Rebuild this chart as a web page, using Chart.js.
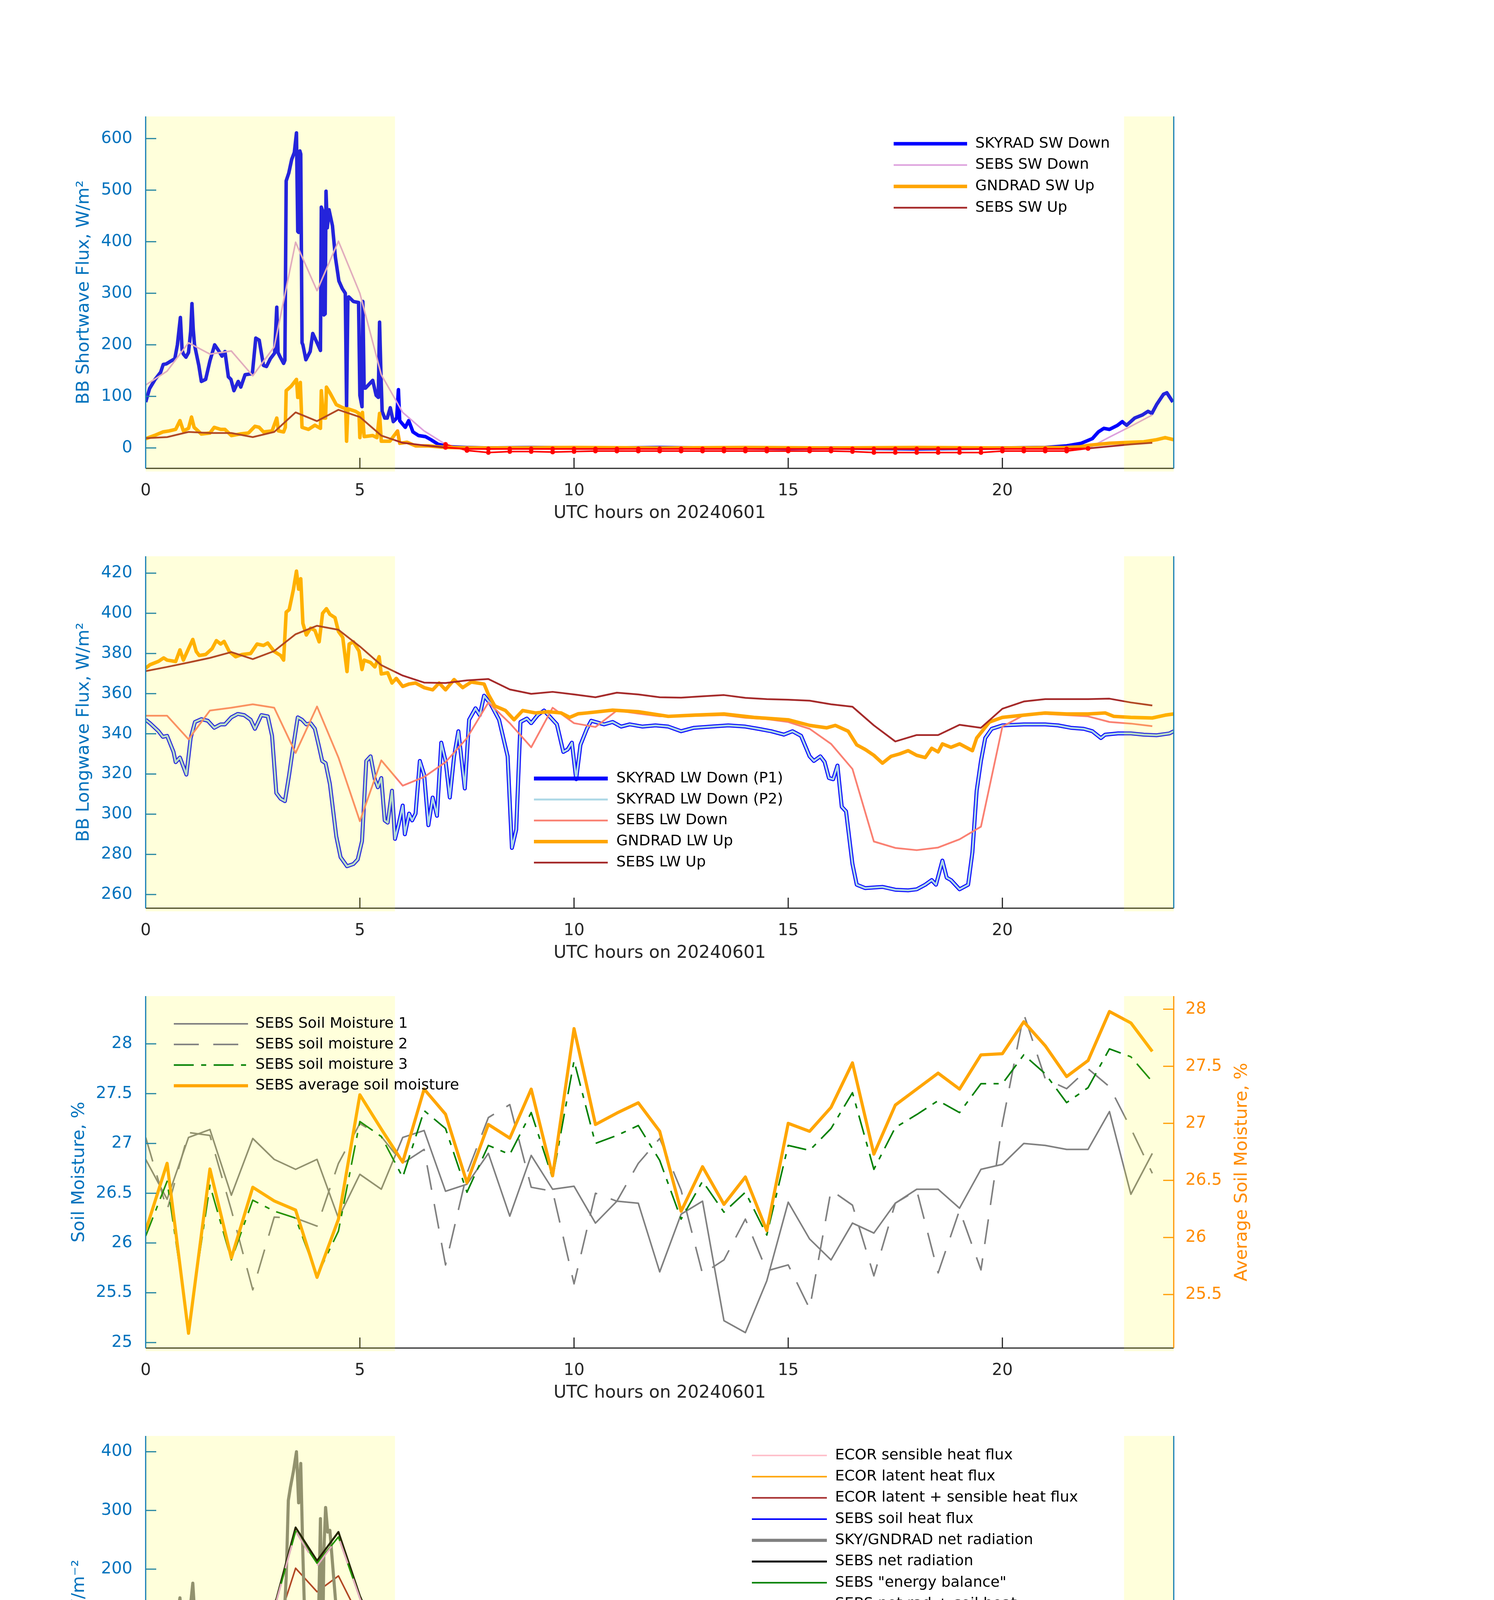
<!DOCTYPE html>
<html>
<head>
<meta charset="utf-8">
<title>Surface radiation and energy balance, 20240601</title>
<script src="https://cdn.jsdelivr.net/npm/chart.js@4.4.1/dist/chart.umd.min.js"></script>
<style>
  html, body { margin: 0; padding: 0; background: #fff; }
  body { width: 3825px; height: 4875px; position: relative; overflow: hidden; }
  canvas { position: absolute; left: 0; }
</style>
</head>
<body>
<canvas id="swChart"></canvas>
<canvas id="lwChart"></canvas>
<canvas id="soilChart"></canvas>
<canvas id="fluxChart"></canvas>
<script>
// ============================================================
// Data
// ============================================================

const xTicks = [0, 5, 10, 15, 20];
const nightShade = [[0, 5.82], [22.84, 24]];          // shaded hours
const halfHours = Array.from({ length: 48 }, (_, i) => i / 2);

// ── Panel 1: shortwave ──────────────────────────────────────
const swTicks = [0, 100, 200, 300, 400, 500, 600];
const skyradSwDown = [[0,89],[0.09,115],[0.22,133],[0.35,147],[0.41,162],[0.48,163],[0.58,168],[0.68,173],[0.74,200],[0.81,253],[0.85,190],[0.88,182],[0.94,176],[1.0,185],[1.05,226],[1.08,280],[1.11,230],[1.14,200],[1.24,160],[1.3,129],[1.4,133],[1.5,169],[1.61,200],[1.7,189],[1.78,178],[1.85,187],[1.93,138],[1.99,133],[2.06,111],[2.16,129],[2.22,118],[2.32,142],[2.49,144],[2.57,213],[2.65,209],[2.75,160],[2.82,158],[2.91,173],[3.01,184],[3.06,273],[3.09,185],[3.13,178],[3.22,164],[3.25,170],[3.28,518],[3.34,533],[3.41,560],[3.47,573],[3.52,611],[3.55,420],[3.57,418],[3.6,576],[3.62,570],[3.65,204],[3.67,200],[3.74,171],[3.84,187],[3.9,222],[4.0,204],[4.08,189],[4.1,467],[4.14,458],[4.16,258],[4.19,260],[4.21,498],[4.24,427],[4.28,462],[4.36,431],[4.43,369],[4.51,324],[4.59,309],[4.66,300],[4.69,80],[4.72,290],[4.74,293],[4.85,284],[4.97,282],[5.0,102],[5.05,80],[5.07,284],[5.1,116],[5.13,116],[5.22,124],[5.3,131],[5.38,102],[5.43,98],[5.46,244],[5.49,150],[5.52,71],[5.58,58],[5.64,58],[5.71,78],[5.78,51],[5.86,58],[5.9,113],[5.93,53],[6.06,40],[6.14,53],[6.24,31],[6.37,24],[6.53,22],[6.66,16],[6.83,7],[7.13,2],[7.5,1],[8,0],[9,1],[10,0],[11,0],[12,1],[13,0],[14,0],[15,-1],[16,0],[17,-1],[18,-2],[19,-1],[20,0],[21,1],[21.5,4],[21.84,9],[22.1,18],[22.24,31],[22.37,38],[22.5,36],[22.69,44],[22.8,51],[22.9,44],[23.09,58],[23.27,64],[23.4,71],[23.49,67],[23.6,84],[23.76,104],[23.84,107],[23.98,89]];
const gndradSwUp = [[0,18],[0.2,24],[0.4,31],[0.55,33],[0.7,36],[0.8,53],[0.88,33],[1.0,38],[1.07,60],[1.13,40],[1.3,27],[1.5,29],[1.6,40],[1.75,36],[1.85,36],[2.0,24],[2.2,27],[2.4,29],[2.55,42],[2.65,40],[2.75,31],[2.95,33],[3.06,58],[3.1,33],[3.22,31],[3.26,40],[3.28,111],[3.4,120],[3.52,133],[3.55,98],[3.58,98],[3.61,127],[3.65,40],[3.8,36],[3.95,44],[4.08,38],[4.1,111],[4.15,58],[4.2,58],[4.22,118],[4.3,107],[4.45,84],[4.6,78],[4.67,76],[4.69,13],[4.72,76],[4.9,71],[4.98,67],[5.0,20],[5.06,69],[5.1,22],[5.3,24],[5.4,20],[5.46,67],[5.5,13],[5.7,13],[5.88,33],[5.93,9],[6.1,11],[6.3,4],[6.6,4],[7.0,1],[8,0],[10,1],[12,0],[14,1],[16,0],[18,1],[20,0],[21.5,1],[21.8,2],[22.0,5],[22.5,9],[23.0,11],[23.3,12],[23.6,16],[23.8,20],[24,16]];
const sebsSwDown = [122,149,204,182,188,140,196,399,305,401,300,142,69,33,7,-5,-9,-7,-7,-8,-7,-6,-6,-6,-6,-6,-6,-6,-6,-6,-6,-6,-6,-7,-9,-9,-9,-9,-9,-9,-6,-6,-6,-6,-1,21,42,64];
const sebsSwUp = [19,21,31,29,29,21,31,69,52,74,60,24,10,5,1,-2,-2,-2,-2,-2,-2,-2,-2,-2,-2,-2,-2,-2,-2,-2,-2,-2,-2,-2,-2,-2,-2,-2,-2,-2,-2,-2,-2,-2,-1,3,7,10];
const sebsSwFlagHours = [7, 22];   // QC-flagged stretch, drawn red

// ── Panel 2: longwave ───────────────────────────────────────
const lwTicks = [260, 280, 300, 320, 340, 360, 380, 400, 420];
const skyradLwDown = [[0,347],[0.1,345.3],[0.3,341.3],[0.4,338.5],[0.5,339],[0.65,331],[0.7,325.9],[0.8,328.2],[0.95,319.7],[1.05,337.9],[1.15,345.9],[1.3,347.3],[1.45,346.5],[1.6,343],[1.75,344.7],[1.85,344.7],[2.0,348.2],[2.15,349.9],[2.3,349.3],[2.45,347],[2.55,342.5],[2.7,349.3],[2.85,348.7],[2.95,339],[3.05,310.5],[3.15,307.7],[3.25,306.5],[3.35,319.7],[3.45,334.5],[3.55,348.2],[3.65,347],[3.75,344.7],[3.85,345.3],[3.95,342.5],[4.05,333.3],[4.12,326.5],[4.2,325.4],[4.3,315.1],[4.45,288.9],[4.55,278.6],[4.7,274.1],[4.85,275.2],[4.95,277.5],[5.05,286.6],[5.15,326.5],[5.25,328.8],[5.35,317.4],[5.42,313.4],[5.5,318],[5.58,296.9],[5.65,295.8],[5.75,311.7],[5.82,287.7],[5.9,294.5],[6.0,304.3],[6.05,290],[6.15,300.3],[6.22,296.9],[6.3,300.3],[6.4,326.5],[6.5,319.7],[6.6,294.5],[6.7,308.3],[6.8,299.2],[6.9,335.6],[7.0,326.5],[7.1,308.3],[7.2,328.8],[7.3,341.3],[7.45,312.8],[7.55,347],[7.7,352.7],[7.8,349.3],[7.9,359],[8.05,355],[8.25,347],[8.45,328.8],[8.55,283.2],[8.65,292.3],[8.75,345.9],[8.9,347.6],[9.0,345.3],[9.15,349.3],[9.3,351.6],[9.45,348.2],[9.6,344.7],[9.75,331],[9.85,332.2],[9.95,335.6],[10.05,317.4],[10.15,334.5],[10.3,342.5],[10.4,346.5],[10.7,344.7],[10.9,345.9],[11.1,343.6],[11.3,344.7],[11.6,343.6],[11.9,344.2],[12.2,343.6],[12.5,341.3],[12.8,343],[13.2,343.6],[13.6,344.2],[14.0,343.6],[14.3,342.5],[14.6,341.3],[14.9,339.6],[15.1,341.3],[15.3,339],[15.5,328.8],[15.6,326.5],[15.75,328.8],[15.85,326],[15.95,318],[16.05,317.4],[16.15,324.2],[16.25,303.7],[16.35,301.4],[16.5,275.2],[16.6,264.9],[16.8,263.2],[17.2,263.8],[17.5,262.4],[17.8,262.1],[18.0,262.6],[18.2,264.9],[18.35,267.2],[18.45,264.9],[18.6,276.9],[18.7,268.4],[18.8,267.2],[19.0,262.6],[19.2,264.9],[19.3,281],[19.4,311.7],[19.5,326.5],[19.6,337.9],[19.75,342.5],[20.0,344.2],[20.5,344.7],[21.0,344.7],[21.3,344.2],[21.6,343],[21.9,342.5],[22.1,341.3],[22.2,339.6],[22.3,337.9],[22.4,339.6],[22.7,340.2],[23.0,340.2],[23.3,339.6],[23.6,339.3],[23.9,340.2],[24,341.3]];
// the second SKYRAD pyrgeometer reads the same to within a line width
const skyradLwDownP2 = skyradLwDown;
const gndradLwUp = [[0,372.7],[0.1,374.4],[0.3,376.1],[0.42,377.8],[0.5,376.7],[0.7,376],[0.8,381.8],[0.88,376.7],[1.0,382.4],[1.1,387],[1.18,381],[1.25,379],[1.4,379.5],[1.55,382.4],[1.65,386.4],[1.75,384.7],[1.83,386],[1.95,381],[2.1,378.4],[2.25,379.5],[2.45,380],[2.6,384.7],[2.75,384],[2.85,385.2],[3.0,381],[3.15,379],[3.22,376.7],[3.28,400.6],[3.35,401.8],[3.45,412],[3.52,421],[3.57,412],[3.62,417.2],[3.67,395],[3.75,389.2],[3.85,392.6],[3.95,391.5],[4.05,385.8],[4.13,400],[4.22,402.3],[4.3,399.5],[4.42,397.8],[4.5,391],[4.6,388],[4.7,371],[4.75,384.7],[4.85,385.8],[4.98,381.2],[5.05,372],[5.1,376.7],[5.25,375.5],[5.35,373.3],[5.45,378.4],[5.5,369.8],[5.65,370.4],[5.75,365.3],[5.85,367.6],[6.0,363.6],[6.15,364.8],[6.3,365.3],[6.5,363],[6.7,361.9],[6.85,365.3],[7.0,361.9],[7.2,367],[7.4,363],[7.6,365.8],[7.9,364.8],[8.0,359.6],[8.15,353.9],[8.4,351.6],[8.6,347],[8.8,351.6],[9.1,350.4],[9.4,351],[9.7,350.4],[9.9,348.2],[10.1,350],[10.3,350.4],[10.9,351.8],[11.5,351],[12.2,348.7],[12.8,349.3],[13.5,349.9],[14.2,348.2],[15.0,347],[15.5,344.2],[15.9,343],[16.1,344.2],[16.4,341.3],[16.6,334.5],[16.8,332.2],[17.0,329.3],[17.2,325.4],[17.4,328.8],[17.6,330],[17.8,331.6],[18.0,329.3],[18.2,328.2],[18.35,332.8],[18.5,331],[18.6,335],[18.8,333.3],[19.0,335],[19.3,331.6],[19.4,337.9],[19.7,345.9],[20.0,348.2],[20.5,349.3],[21.0,350.4],[21.5,349.9],[22.0,349.9],[22.4,350.4],[22.6,348.7],[23.0,348.2],[23.5,347.9],[23.8,349.3],[24,349.9]];
const sebsLwDown = [349,349,337.3,351.6,353,354.7,353,330.5,353.6,328.2,296.5,326.8,314.2,318.5,325.9,337.9,355.6,345.3,333.3,353,345.3,343.4,351.6,350.1,348.7,348.7,349,349.3,348,347.3,345.9,342.5,335,322.5,286.4,283.2,282.1,283.4,287.5,293.8,343.6,349.3,349.9,349.3,348.7,345.9,345.1,343.8];
const sebsLwUp = [371.2,373.3,375.5,377.8,380.7,377.2,381.2,389.6,393.8,391.8,383.5,374.2,369,365.5,365.3,366.6,367.3,362.1,359.9,360.9,359.6,358.2,360.5,359.6,358.2,358,358.7,359.3,357.9,357.3,357,356.5,354.7,353.5,344.2,336.2,339.4,339.4,344.5,343,352.5,356.1,357.3,357.3,357.3,357.5,355.6,354.1];

// ── Panel 3: soil moisture ──────────────────────────────────
const soilTicks = [25, 25.5, 26, 26.5, 27, 27.5, 28];
const avgSoilTicks = [25.5, 26, 26.5, 27, 27.5, 28];
const soilMoisture1 = [26.84,26.44,27.06,27.14,26.48,27.05,26.84,26.74,26.84,26.25,26.69,26.54,27.06,27.13,26.52,26.59,26.9,26.27,26.88,26.54,26.57,26.2,26.42,26.4,25.71,26.29,26.42,25.22,25.1,25.62,26.41,26.04,25.83,26.2,26.1,26.4,26.54,26.54,26.35,26.74,26.79,27.0,26.98,26.94,26.94,27.32,26.49,26.9];
const soilMoisture2 = [27.06,26.33,27.11,27.08,26.33,25.53,26.26,26.25,26.17,26.8,27.2,27.07,26.8,26.94,25.78,26.7,27.26,27.39,26.56,26.52,25.59,26.5,26.42,26.8,27.05,26.53,25.69,25.83,26.24,25.72,25.78,25.34,26.53,26.38,25.67,26.4,26.53,25.7,26.33,25.73,27.2,28.3,27.65,27.55,27.75,27.57,27.15,26.7];
const soilMoisture3 = [26.07,26.62,25.15,26.58,25.83,26.43,26.32,26.25,25.67,26.12,27.22,27.07,26.66,27.33,27.15,26.51,26.98,26.89,27.31,26.65,27.83,27.0,27.08,27.18,26.83,26.24,26.62,26.31,26.51,26.08,26.98,26.93,27.15,27.51,26.74,27.16,27.29,27.43,27.31,27.6,27.6,27.89,27.7,27.41,27.56,27.95,27.87,27.62];
const soilMoistureAvg = [26.06,26.65,25.16,26.6,25.82,26.44,26.32,26.24,25.65,26.16,27.25,26.95,26.66,27.3,27.08,26.48,26.99,26.87,27.3,26.54,27.83,26.99,27.09,27.18,26.93,26.23,26.62,26.29,26.53,26.06,27.0,26.93,27.14,27.53,26.73,27.16,27.3,27.44,27.3,27.6,27.61,27.89,27.68,27.41,27.55,27.98,27.88,27.63];

// ── Panel 4: energy balance ─────────────────────────────────
const fluxTicks = [-100, 0, 100, 200, 300, 400];
const ecorSensible = [12.4,21,31.7,27,33.6,24,39.4,101,102,119.7,69.5,31,-11.6,-17,-23,-15.4,17.4,-32.8,-5.8,-7.7,-10.8,-10.8,-9.7,-11.6,-9.7,-11.6,-11.6,-14.7,-16.2,-7.7,-14.7,-11.6,-12.4,-17.4,-9.7,-17.4,-29,-17.4,-43.2,-44.4,-24.3,-28.2,-29,-18.1,-15.4,-8.5,1.9,7.7];
const ecorLatent = [36.7,59.8,65.6,37.5,67.6,43.2,47.1,101,58.7,68.7,48.3,25.1,23.9,61,42.5,3.9,-144.8,99.6,21.2,1.9,9.7,9.7,7.7,11.6,11.6,5.8,7,15.4,19.3,13.5,15.4,9.7,1.9,13.5,-7.7,1.9,0.8,9.7,6.6,6.6,23.2,17.4,21.2,18.5,12.7,16.2,16.6,17.4];
const ecorTotal = [54,81,95.8,64.9,100.4,67.6,88,201.5,161.4,188.4,115.8,54,13.5,41.7,15.4,-12.4,-127.4,65.6,14.7,-8.5,-1.9,-1.9,-1.9,-3.9,-1.9,-0.8,-1.9,3,4.6,3.9,1.9,-3.9,-10.8,-3.1,-17.4,-15.4,-29,-6.6,-37.5,-38.6,-1.9,-11.6,-6.6,0,-3.1,13.5,20.5,25.1];
const sebsSoilHeat = [1.9,1,0,-1.5,-3.1,-3.5,-3.9,-5,-9.7,-10,-7.7,-5.8,-1.9,1.9,3.9,3.9,5.4,4.8,4.2,4.6,5.8,5.8,5.8,5.5,4.6,4.6,4.6,4.6,4.6,5.8,7,8.4,9.7,10,10.4,11,11.6,11.6,11.6,10.6,9.7,8.2,6.6,5.8,5,4.4,3.9,3.5];
const netRadSkyGnd = [[0,46],[0.08,62],[0.18,77],[0.3,85],[0.38,95],[0.46,89],[0.55,96],[0.63,89],[0.72,112],[0.8,151],[0.87,89],[0.95,85],[1.03,127],[1.1,176],[1.15,116],[1.25,81],[1.35,73],[1.45,79],[1.55,100],[1.65,122],[1.75,110],[1.85,93],[1.95,75],[2.05,60],[2.15,75],[2.25,64],[2.35,85],[2.45,97],[2.55,135],[2.62,116],[2.7,93],[2.8,104],[2.92,97],[3.0,85],[3.05,147],[3.12,62],[3.2,73],[3.28,185],[3.33,317],[3.38,340],[3.45,367],[3.52,400],[3.57,313],[3.62,380],[3.67,224],[3.72,97],[3.82,93],[3.9,131],[3.97,112],[4.03,97],[4.08,286],[4.12,-8],[4.16,232],[4.2,305],[4.25,263],[4.3,266],[4.38,193],[4.45,131],[4.55,118],[4.62,-39],[4.68,112],[4.75,104],[4.85,108],[4.9,100],[4.95,89],[5.0,-23],[5.05,108],[5.12,27],[5.18,50],[5.3,58],[5.4,23],[5.48,120],[5.53,-19],[5.6,-8],[5.65,6],[5.72,-37],[5.8,-23],[5.85,-23],[5.88,8],[5.92,4],[6.0,-23],[6.1,-43],[6.18,-23],[6.25,-37],[6.35,-15],[6.48,-46],[6.55,-50],[6.65,-37],[6.72,-46],[6.8,-27],[6.9,-31],[7.0,-50],[7.1,-33],[7.2,-31],[7.28,-25],[7.38,-23],[7.43,-50],[7.5,-15],[7.6,-8],[7.75,-6],[7.85,0],[7.95,-4],[8.05,2],[8.2,0],[8.35,-12],[8.45,-27],[8.55,-62],[8.62,-64],[8.7,-39],[8.82,-8],[9.0,-4],[9.2,-2],[9.35,2],[9.5,-5],[9.65,-6],[9.8,-4],[9.95,-8],[10.0,-17],[10.1,-31],[10.2,-12],[10.35,-6],[10.6,-4],[11.0,-6],[11.5,-6],[12.0,-4],[12.5,-5],[13.0,-6],[13.5,-5],[14.0,-5],[14.4,-6],[14.6,-10],[14.75,-14],[14.85,-11],[15.0,-15],[15.2,-14],[15.5,-15],[15.65,-12],[15.75,-17],[16.0,-23],[16.2,-19],[16.35,-31],[16.5,-37],[16.6,-62],[16.7,-71],[16.8,-70],[17.0,-66],[17.3,-68],[17.5,-66],[17.8,-70],[18.1,-68],[18.35,-66],[18.55,-62],[18.8,-68],[19.0,-69],[19.2,-71],[19.35,-64],[19.45,-35],[19.55,-12],[19.75,-3],[20.0,-2],[20.3,-4],[20.6,-5],[21.0,-6],[21.3,-4],[21.6,-5],[21.9,-3],[22.05,0],[22.2,8],[22.35,15],[22.5,19],[22.7,27],[22.8,33],[22.9,31],[23.1,41],[23.3,44],[23.5,50],[23.65,64],[23.8,75],[23.9,68],[24.0,60]];
const sebsNetRad = [80.3,102.3,135.1,129.3,132,96.5,135.1,271,214.3,263.3,154.4,69.5,3.9,-17.4,-32.8,-31.7,-17.4,-22.4,-30.9,-13.5,-17.4,-19.3,-12.4,-13.5,-13.5,-14.7,-14.7,-14.7,-12.7,-12.7,-15.4,-17.4,-25.1,-35.5,-64.9,-61,-64.5,-63.7,-62.9,-55.2,-12.4,-9.7,-10.4,-11.6,-9.7,8.5,29,46.3];
const sebsEnergyBalance = [84,101,134,126.6,129.3,93.4,132,264.5,210,254.8,150.6,65.6,3.9,-17.4,-28.2,-28.2,-11.6,-17.4,-25.1,-9.7,-12.4,-12.4,-7.7,-7.7,-7.7,-9.7,-9.7,-9.7,-9.7,-10.8,-8.5,-12.4,-19.3,-30.9,-57,-50,-53,-52,-51,-44.4,-1.9,-1.2,-5,-5,-3.9,11.6,30.9,48.3];
const sebsNetPlusSoil = [84,101,134,126.6,129.3,93.4,132,264.5,205.4,254.8,150.6,65.6,3.9,-17.4,-28.2,-28.2,-11.6,-17.4,-25.1,-9.7,-12.4,-12.4,-7.7,-7.7,-7.7,-9.7,-9.7,-9.7,-9.7,-10.8,-8.5,-12.4,-19.3,-30.9,-57,-50,-53,-52,-51,-44.4,-1.9,-1.2,-5,-5,-3.9,11.6,30.9,48.3];
const ecorFlagHours = { sensible: [8], latent: [11, 16, 17.5], total: [8, 9, 16, 17.5] };

// ============================================================
// Layout (page pixels)
// ============================================================
const W = 3825;
const PLOT_LEFT = 373, PLOT_RIGHT = 3005, PLOT_H = 901;
const PAD_TOP = 60, X_AXIS_H = 200, TICK_LEN = 27;
const panelTops = [298, 1424, 2550, 3676];
const AXIS_BLUE = '#0072BD', AXIS_ORANGE = '#FF8C00', AXIS_DARK = '#262626';

Chart.defaults.font.family = "'DejaVu Sans', 'Liberation Sans', sans-serif";

const pairs = arr => arr.map(([x, y]) => ({ x, y }));
const half = vals => vals.map((y, i) => ({ x: halfHours[i], y }));

function line(label, data, color, width, extra = {}) {
    return Object.assign({
        label, data,
        borderColor: color, backgroundColor: color,
        borderWidth: width, pointRadius: 0, tension: 0, fill: false,
        borderJoinStyle: 'round'
    }, extra);
}

// red dots (and red segments) where the SEBS SW data are flagged
const inSwFlag = x => x >= sebsSwFlagHours[0] && x <= sebsSwFlagHours[1];
const swFlagStyle = {
    segment: { borderColor: c => (inSwFlag(c.p0.parsed.x) && inSwFlag(c.p1.parsed.x)) ? '#FF0000' : undefined },
    pointRadius: c => (c.raw && inSwFlag(c.raw.x)) ? 6 : 0,
    pointBackgroundColor: '#FF0000', pointBorderWidth: 0
};
const flagDots = hours => ({
    pointRadius: c => (c.raw && hours.includes(c.raw.x)) ? 6 : 0,
    pointBackgroundColor: '#FF0000', pointBorderWidth: 0
});

// ── axes, inward ticks, night shading, in-plot legend ───────
const decor = {
    id: 'decor',
    afterDatasetsDraw(chart, args, o) {
        const { ctx, chartArea: a, scales } = chart;
        const px = v => scales.x.getPixelForValue(v);
        ctx.save();
        ctx.lineWidth = 3;
        ctx.setLineDash([]);

        ctx.strokeStyle = AXIS_DARK;
        ctx.beginPath();
        ctx.moveTo(a.left, a.bottom); ctx.lineTo(a.right, a.bottom);
        xTicks.forEach(v => {
            if (v > 0) { ctx.moveTo(px(v), a.bottom); ctx.lineTo(px(v), a.bottom - TICK_LEN); }
        });
        ctx.stroke();

        ctx.strokeStyle = AXIS_BLUE;
        ctx.beginPath();
        ctx.moveTo(a.left, a.top); ctx.lineTo(a.left, a.bottom);
        scales.y.ticks.forEach(t => {
            const py = scales.y.getPixelForValue(t.value);
            ctx.moveTo(a.left, py); ctx.lineTo(a.left + TICK_LEN, py);
        });
        ctx.stroke();

        ctx.strokeStyle = scales.y2 ? AXIS_ORANGE : AXIS_BLUE;
        ctx.beginPath();
        ctx.moveTo(a.right, a.top); ctx.lineTo(a.right, a.bottom);
        if (scales.y2) {
            scales.y2.ticks.forEach(t => {
                const py = scales.y2.getPixelForValue(t.value);
                ctx.moveTo(a.right, py); ctx.lineTo(a.right - TICK_LEN, py);
            });
        }
        ctx.stroke();

        ctx.fillStyle = 'rgba(255,255,0,0.14)';
        nightShade.forEach(([s, e]) => ctx.fillRect(px(s), a.top, px(e) - px(s), a.bottom - a.top + 8));
        ctx.restore();
    },
    afterDraw(chart, args, o) {
        const { ctx, chartArea: a } = chart;
        const L = o.legend;
        ctx.save();
        ctx.font = "38px 'DejaVu Sans'";
        ctx.textBaseline = 'middle';
        ctx.textAlign = 'left';
        ctx.lineCap = 'butt';
        chart.data.datasets.forEach((d, i) => {
            const y = L.y0 + i * L.dy;
            ctx.strokeStyle = d.borderColor;
            ctx.lineWidth = d.borderWidth;
            ctx.setLineDash(d.borderDash || []);
            ctx.beginPath();
            ctx.moveTo(L.x0, y); ctx.lineTo(L.x1, y);
            ctx.stroke();
            ctx.fillStyle = '#000';
            ctx.fillText(d.label, L.tx, y);
        });
        if (o.rightTitle) {
            ctx.translate(o.rightTitle.x, (a.top + a.bottom) / 2);
            ctx.rotate(-Math.PI / 2);
            ctx.textAlign = 'center';
            ctx.font = "45px 'DejaVu Sans'";
            ctx.fillStyle = AXIS_ORANGE;
            ctx.fillText(o.rightTitle.text, 0, 0);
        }
        ctx.restore();
    }
};

function yScale(o) {
    return {
        type: 'linear', position: o.position || 'left', min: o.min, max: o.max,
        afterBuildTicks: s => { s.ticks = o.ticks.map(v => ({ value: v })); },
        afterFit: s => { s.width = o.width; },
        grid: { display: false }, border: { display: false },
        ticks: { color: o.color, font: { size: 42 }, padding: o.tickPad, callback: v => String(v) },
        title: { display: !!o.title, text: o.title || '', color: o.color, font: { size: 45 },
                 padding: { top: o.titlePad || 0, bottom: 0 } }
    };
}

function panel(canvasId, k, datasets, yScales, decorOpts) {
    const cv = document.getElementById(canvasId);
    cv.width = W;
    cv.height = PAD_TOP + PLOT_H + X_AXIS_H;
    cv.style.width = W + 'px';
    cv.style.height = cv.height + 'px';
    cv.style.top = (panelTops[k] - PAD_TOP) + 'px';
    datasets.forEach((d, i) => { d.order = -i; });   // later series on top

    const top = panelTops[k] - PAD_TOP;
    const leg = decorOpts.legend;
    const legend = { x0: leg.x0, x1: leg.x1, tx: leg.tx, y0: leg.y0 - top, dy: leg.dy };

    new Chart(cv, {
        type: 'line',
        data: { datasets },
        options: {
            responsive: false, animation: false, devicePixelRatio: 1,
            parsing: true, spanGaps: true,
            layout: { padding: { top: PAD_TOP, left: 0, bottom: 0, right: yScales.y2 ? 0 : W - PLOT_RIGHT } },
            scales: Object.assign({
                x: {
                    type: 'linear', min: 0, max: 24,
                    afterBuildTicks: s => { s.ticks = xTicks.map(v => ({ value: v })); },
                    afterFit: s => { s.height = X_AXIS_H; },
                    grid: { display: false }, border: { display: false },
                    ticks: { color: AXIS_DARK, font: { size: 42 }, padding: 25, maxRotation: 0, callback: v => String(v) },
                    title: { display: true, text: 'UTC hours on 20240601', color: AXIS_DARK,
                             font: { size: 45 }, padding: { top: 0, bottom: 58 } }
                }
            }, yScales),
            plugins: {
                legend: { display: false },
                tooltip: { enabled: false },
                decor: { legend, rightTitle: decorOpts.rightTitle }
            }
        },
        plugins: [decor]
    });
}

// ── Panel 1 ─────────────────────────────────────────────────
panel('swChart', 0, [
    line('SKYRAD SW Down', pairs(skyradSwDown), '#0000FF', 9),
    line('SEBS SW Down', half(sebsSwDown), '#DDA0DD', 4, swFlagStyle),
    line('GNDRAD SW Up', pairs(gndradSwUp), '#FFA500', 9),
    line('SEBS SW Up', half(sebsSwUp), '#A52A2A', 4.5, swFlagStyle)
], {
    y: yScale({ min: -39.6, max: 643, ticks: swTicks, width: PLOT_LEFT, color: AXIS_BLUE,
                tickPad: 26, title: 'BB Shortwave Flux, W/m²', titlePad: 188 })
}, { legend: { x0: 2288, x1: 2476, tx: 2497, y0: 368, dy: 54.6 } });

// ── Panel 2 ─────────────────────────────────────────────────
panel('lwChart', 1, [
    line('SKYRAD LW Down (P1)', pairs(skyradLwDown), '#0000FF', 10),
    line('SKYRAD LW Down (P2)', pairs(skyradLwDownP2), '#ADD8E6', 5),
    line('SEBS LW Down', half(sebsLwDown), '#FA8072', 4.5),
    line('GNDRAD LW Up', pairs(gndradLwUp), '#FFA500', 9),
    line('SEBS LW Up', half(sebsLwUp), '#A52A2A', 4.5)
], {
    y: yScale({ min: 253.2, max: 428.4, ticks: lwTicks, width: PLOT_LEFT, color: AXIS_BLUE,
                tickPad: 26, title: 'BB Longwave Flux, W/m²', titlePad: 188 })
}, { legend: { x0: 1367, x1: 1556, tx: 1578, y0: 1993, dy: 53.8 } });

// ── Panel 3 ─────────────────────────────────────────────────
panel('soilChart', 2, [
    line('SEBS Soil Moisture 1', half(soilMoisture1), '#808080', 4),
    line('SEBS soil moisture 2', half(soilMoisture2), '#808080', 4, { borderDash: [64, 37] }),
    line('SEBS soil moisture 3', half(soilMoisture3), '#008000', 4, { borderDash: [51, 19, 13, 19] }),
    line('SEBS average soil moisture', half(soilMoistureAvg), '#FFA500', 8, { yAxisID: 'y2' })
], {
    y: yScale({ min: 24.945, max: 28.48, ticks: soilTicks, width: PLOT_LEFT, color: AXIS_BLUE,
                tickPad: 26, title: 'Soil Moisture, %', titlePad: 176 }),
    y2: yScale({ position: 'right', min: 25.031, max: 28.115, ticks: avgSoilTicks,
                 width: W - PLOT_RIGHT, color: AXIS_ORANGE, tickPad: 22 })
}, {
    legend: { x0: 445, x1: 635, tx: 654, y0: 2621, dy: 52.8 },
    rightTitle: { x: 3180, text: 'Average Soil Moisture, %' }
});

// ── Panel 4 ─────────────────────────────────────────────────
panel('fluxChart', 3, [
    line('ECOR sensible heat flux', half(ecorSensible), '#FFC0CB', 4, flagDots(ecorFlagHours.sensible)),
    line('ECOR latent heat flux', half(ecorLatent), '#FFA500', 4, flagDots(ecorFlagHours.latent)),
    line('ECOR latent + sensible heat flux', half(ecorTotal), '#A52A2A', 4, flagDots(ecorFlagHours.total)),
    line('SEBS soil heat flux', half(sebsSoilHeat), '#0000FF', 4),
    line('SKY/GNDRAD net radiation', pairs(netRadSkyGnd), '#808080', 8),
    line('SEBS net radiation', half(sebsNetRad), '#000000', 5),
    line('SEBS "energy balance"', half(sebsEnergyBalance), '#008000', 4),
    line('SEBS net rad + soil heat', half(sebsNetPlusSoil), '#DDA0DD', 4.5, { borderDash: [61, 41] })
], {
    y: yScale({ min: -173, max: 427, ticks: fluxTicks, width: PLOT_LEFT, color: AXIS_BLUE,
                tickPad: 26, title: 'Flux, W/m⁻²', titlePad: 176 })
}, { legend: { x0: 1925, x1: 2117, tx: 2138, y0: 3726, dy: 54.3 } });
</script>
</body>
</html>
